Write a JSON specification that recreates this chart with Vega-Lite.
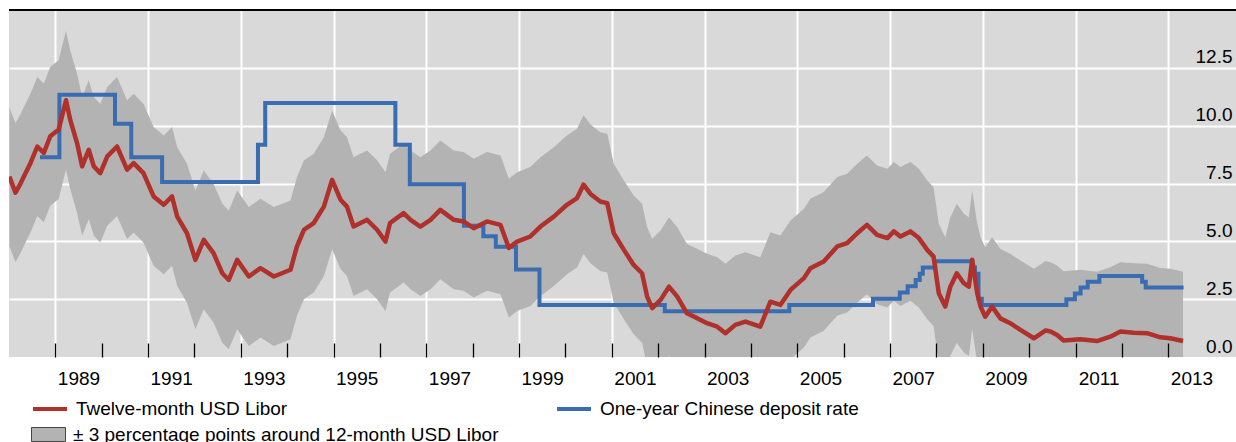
{
  "$schema": "https://vega.github.io/schema/vega-lite/v6.json",
  "width": 1227,
  "height": 347,
  "autosize": {"type": "none"},
  "padding": {"left": 9, "top": 10, "right": 0, "bottom": 85},
  "background": "white",
  "config": {
    "font": "Liberation Sans",
    "view": {"fill": "#d9d9d9", "stroke": null},
    "axis": {"labelColor": "#000000", "labelFontSize": 19, "title": null, "domain": false}
  },
  "resolve": {"axis": {"x": "independent"}},
  "datasets": {
    "libor": [
      {"d": "1988-01-04", "v": 7.8, "lo": 4.8, "hi": 10.8},
      {"d": "1988-02-21", "v": 7.1, "lo": 4.1, "hi": 10.1},
      {"d": "1988-04-01", "v": 7.5, "lo": 4.5, "hi": 10.5},
      {"d": "1988-04-27", "v": 7.8, "lo": 4.8, "hi": 10.8},
      {"d": "1988-06-18", "v": 8.38, "lo": 5.38, "hi": 11.38},
      {"d": "1988-08-11", "v": 9.1, "lo": 6.1, "hi": 12.1},
      {"d": "1988-10-01", "v": 8.82, "lo": 5.82, "hi": 11.82},
      {"d": "1988-11-21", "v": 9.54, "lo": 6.54, "hi": 12.54},
      {"d": "1989-01-26", "v": 9.83, "lo": 6.83, "hi": 12.83},
      {"d": "1989-03-25", "v": 11.1, "lo": 8.1, "hi": 14.1},
      {"d": "1989-04-27", "v": 10.26, "lo": 7.26, "hi": 13.26},
      {"d": "1989-06-20", "v": 9.25, "lo": 6.25, "hi": 12.25},
      {"d": "1989-07-30", "v": 8.24, "lo": 5.24, "hi": 11.24},
      {"d": "1989-09-20", "v": 8.96, "lo": 5.96, "hi": 11.96},
      {"d": "1989-10-30", "v": 8.24, "lo": 5.24, "hi": 11.24},
      {"d": "1989-12-20", "v": 7.95, "lo": 4.95, "hi": 10.95},
      {"d": "1990-02-13", "v": 8.67, "lo": 5.67, "hi": 11.67},
      {"d": "1990-05-01", "v": 9.1, "lo": 6.1, "hi": 12.1},
      {"d": "1990-07-19", "v": 8.1, "lo": 5.1, "hi": 11.1},
      {"d": "1990-09-09", "v": 8.38, "lo": 5.38, "hi": 11.38},
      {"d": "1990-11-25", "v": 7.95, "lo": 4.95, "hi": 10.95},
      {"d": "1991-02-13", "v": 6.94, "lo": 3.94, "hi": 9.94},
      {"d": "1991-05-04", "v": 6.58, "lo": 3.58, "hi": 9.58},
      {"d": "1991-07-08", "v": 6.94, "lo": 3.94, "hi": 9.94},
      {"d": "1991-08-18", "v": 6.07, "lo": 3.07, "hi": 9.07},
      {"d": "1991-11-03", "v": 5.35, "lo": 2.35, "hi": 8.35},
      {"d": "1992-01-08", "v": 4.2, "lo": 1.2, "hi": 7.2},
      {"d": "1992-03-14", "v": 5.06, "lo": 2.06, "hi": 8.06},
      {"d": "1992-05-30", "v": 4.49, "lo": 1.49, "hi": 7.49},
      {"d": "1992-08-07", "v": 3.62, "lo": 0.62, "hi": 6.62},
      {"d": "1992-09-27", "v": 3.33, "lo": 0.33, "hi": 6.33},
      {"d": "1992-12-02", "v": 4.2, "lo": 1.2, "hi": 7.2},
      {"d": "1993-03-04", "v": 3.48, "lo": 0.48, "hi": 6.48},
      {"d": "1993-06-03", "v": 3.84, "lo": 0.84, "hi": 6.84},
      {"d": "1993-09-17", "v": 3.48, "lo": 0.48, "hi": 6.48},
      {"d": "1994-01-26", "v": 3.77, "lo": 0.77, "hi": 6.77},
      {"d": "1994-03-18", "v": 4.78, "lo": 1.78, "hi": 7.78},
      {"d": "1994-05-12", "v": 5.5, "lo": 2.5, "hi": 8.5},
      {"d": "1994-07-28", "v": 5.79, "lo": 2.79, "hi": 8.79},
      {"d": "1994-10-16", "v": 6.5, "lo": 3.5, "hi": 9.5},
      {"d": "1994-12-20", "v": 7.66, "lo": 4.66, "hi": 10.66},
      {"d": "1995-02-24", "v": 6.8, "lo": 3.8, "hi": 9.8},
      {"d": "1995-04-16", "v": 6.5, "lo": 3.5, "hi": 9.5},
      {"d": "1995-06-07", "v": 5.64, "lo": 2.64, "hi": 8.64},
      {"d": "1995-09-21", "v": 5.93, "lo": 2.93, "hi": 8.93},
      {"d": "1995-12-09", "v": 5.5, "lo": 2.5, "hi": 8.5},
      {"d": "1996-02-13", "v": 4.99, "lo": 1.99, "hi": 7.99},
      {"d": "1996-03-20", "v": 5.79, "lo": 2.79, "hi": 8.79},
      {"d": "1996-07-05", "v": 6.22, "lo": 3.22, "hi": 9.22},
      {"d": "1996-08-29", "v": 5.93, "lo": 2.93, "hi": 8.93},
      {"d": "1996-11-14", "v": 5.64, "lo": 2.64, "hi": 8.64},
      {"d": "1997-02-02", "v": 5.93, "lo": 2.93, "hi": 8.93},
      {"d": "1997-04-20", "v": 6.36, "lo": 3.36, "hi": 9.36},
      {"d": "1997-08-04", "v": 5.93, "lo": 2.93, "hi": 8.93},
      {"d": "1997-10-20", "v": 5.86, "lo": 2.86, "hi": 8.86},
      {"d": "1998-01-08", "v": 5.57, "lo": 2.57, "hi": 8.57},
      {"d": "1998-04-23", "v": 5.86, "lo": 2.86, "hi": 8.86},
      {"d": "1998-08-07", "v": 5.71, "lo": 2.71, "hi": 8.71},
      {"d": "1998-10-12", "v": 4.71, "lo": 1.71, "hi": 7.71},
      {"d": "1998-12-16", "v": 4.99, "lo": 1.99, "hi": 7.99},
      {"d": "1999-03-30", "v": 5.21, "lo": 2.21, "hi": 8.21},
      {"d": "1999-06-18", "v": 5.64, "lo": 2.64, "hi": 8.64},
      {"d": "1999-10-01", "v": 6.07, "lo": 3.07, "hi": 9.07},
      {"d": "2000-01-12", "v": 6.58, "lo": 3.58, "hi": 9.58},
      {"d": "2000-04-01", "v": 6.87, "lo": 3.87, "hi": 9.87},
      {"d": "2000-05-22", "v": 7.45, "lo": 4.45, "hi": 10.45},
      {"d": "2000-07-16", "v": 7.05, "lo": 4.05, "hi": 10.05},
      {"d": "2000-10-01", "v": 6.72, "lo": 3.72, "hi": 9.72},
      {"d": "2000-11-25", "v": 6.65, "lo": 3.65, "hi": 9.65},
      {"d": "2001-01-15", "v": 5.35, "lo": 2.35, "hi": 8.35},
      {"d": "2001-04-05", "v": 4.63, "lo": 1.63, "hi": 7.63},
      {"d": "2001-06-21", "v": 3.98, "lo": 0.98, "hi": 6.98},
      {"d": "2001-08-26", "v": 3.62, "lo": 0.62, "hi": 6.62},
      {"d": "2001-10-05", "v": 2.61, "lo": -0.39, "hi": 5.61},
      {"d": "2001-11-14", "v": 2.11, "lo": -0.89, "hi": 5.11},
      {"d": "2002-01-19", "v": 2.47, "lo": -0.53, "hi": 5.47},
      {"d": "2002-03-26", "v": 3.04, "lo": 0.04, "hi": 6.04},
      {"d": "2002-05-30", "v": 2.61, "lo": -0.39, "hi": 5.61},
      {"d": "2002-08-15", "v": 1.89, "lo": -1.11, "hi": 4.89},
      {"d": "2002-11-03", "v": 1.68, "lo": -1.32, "hi": 4.68},
      {"d": "2003-01-20", "v": 1.46, "lo": -1.54, "hi": 4.46},
      {"d": "2003-04-10", "v": 1.31, "lo": -1.69, "hi": 4.31},
      {"d": "2003-06-14", "v": 1.03, "lo": -1.97, "hi": 4.03},
      {"d": "2003-08-30", "v": 1.39, "lo": -1.61, "hi": 4.39},
      {"d": "2003-11-18", "v": 1.53, "lo": -1.47, "hi": 4.53},
      {"d": "2004-03-14", "v": 1.31, "lo": -1.69, "hi": 4.31},
      {"d": "2004-06-02", "v": 2.39, "lo": -0.61, "hi": 5.39},
      {"d": "2004-08-19", "v": 2.25, "lo": -0.75, "hi": 5.25},
      {"d": "2004-11-07", "v": 2.9, "lo": -0.1, "hi": 5.9},
      {"d": "2005-02-21", "v": 3.41, "lo": 0.41, "hi": 6.41},
      {"d": "2005-04-13", "v": 3.84, "lo": 0.84, "hi": 6.84},
      {"d": "2005-07-27", "v": 4.13, "lo": 1.13, "hi": 7.13},
      {"d": "2005-11-10", "v": 4.78, "lo": 1.78, "hi": 7.78},
      {"d": "2006-01-27", "v": 4.92, "lo": 1.92, "hi": 7.92},
      {"d": "2006-04-17", "v": 5.35, "lo": 2.35, "hi": 8.35},
      {"d": "2006-07-02", "v": 5.71, "lo": 2.71, "hi": 8.71},
      {"d": "2006-09-20", "v": 5.28, "lo": 2.28, "hi": 8.28},
      {"d": "2006-12-10", "v": 5.14, "lo": 2.14, "hi": 8.14},
      {"d": "2007-01-30", "v": 5.43, "lo": 2.43, "hi": 8.43},
      {"d": "2007-03-23", "v": 5.21, "lo": 2.21, "hi": 8.21},
      {"d": "2007-06-10", "v": 5.43, "lo": 2.43, "hi": 8.43},
      {"d": "2007-08-15", "v": 5.14, "lo": 2.14, "hi": 8.14},
      {"d": "2007-10-20", "v": 4.63, "lo": 1.63, "hi": 7.63},
      {"d": "2007-12-09", "v": 4.34, "lo": 1.34, "hi": 7.34},
      {"d": "2008-01-19", "v": 2.76, "lo": -0.24, "hi": 5.76},
      {"d": "2008-03-10", "v": 2.18, "lo": -0.82, "hi": 5.18},
      {"d": "2008-04-19", "v": 3.04, "lo": 0.04, "hi": 6.04},
      {"d": "2008-06-09", "v": 3.62, "lo": 0.62, "hi": 6.62},
      {"d": "2008-08-03", "v": 3.19, "lo": 0.19, "hi": 6.19},
      {"d": "2008-09-12", "v": 3.04, "lo": 0.04, "hi": 6.04},
      {"d": "2008-10-08", "v": 4.2, "lo": 1.2, "hi": 7.2},
      {"d": "2008-11-17", "v": 2.76, "lo": -0.24, "hi": 5.76},
      {"d": "2008-12-13", "v": 2.18, "lo": -0.82, "hi": 5.18},
      {"d": "2009-01-19", "v": 1.74, "lo": -1.26, "hi": 4.74},
      {"d": "2009-03-14", "v": 2.18, "lo": -0.82, "hi": 5.18},
      {"d": "2009-05-18", "v": 1.67, "lo": -1.33, "hi": 4.67},
      {"d": "2009-08-04", "v": 1.46, "lo": -1.54, "hi": 4.46},
      {"d": "2009-10-23", "v": 1.17, "lo": -1.83, "hi": 4.17},
      {"d": "2010-02-06", "v": 0.81, "lo": -2.19, "hi": 3.81},
      {"d": "2010-05-10", "v": 1.15, "lo": -1.85, "hi": 4.15},
      {"d": "2010-06-18", "v": 1.1, "lo": -1.9, "hi": 4.1},
      {"d": "2010-08-08", "v": 0.95, "lo": -2.05, "hi": 3.95},
      {"d": "2010-09-28", "v": 0.71, "lo": -2.29, "hi": 3.71},
      {"d": "2011-02-06", "v": 0.77, "lo": -2.23, "hi": 3.77},
      {"d": "2011-06-18", "v": 0.69, "lo": -2.31, "hi": 3.69},
      {"d": "2011-10-01", "v": 0.88, "lo": -2.12, "hi": 3.88},
      {"d": "2011-12-20", "v": 1.1, "lo": -1.9, "hi": 4.1},
      {"d": "2012-04-01", "v": 1.05, "lo": -1.95, "hi": 4.05},
      {"d": "2012-07-16", "v": 1.03, "lo": -1.97, "hi": 4.03},
      {"d": "2012-10-30", "v": 0.85, "lo": -2.15, "hi": 3.85},
      {"d": "2013-01-15", "v": 0.81, "lo": -2.19, "hi": 3.81},
      {"d": "2013-04-26", "v": 0.69, "lo": -2.31, "hi": 3.69}
    ],
    "cny": [
      {"d": "1988-09-01", "r": 8.64},
      {"d": "1989-02-01", "r": 11.34},
      {"d": "1990-04-15", "r": 10.08},
      {"d": "1990-08-21", "r": 8.64},
      {"d": "1991-04-21", "r": 7.56},
      {"d": "1993-05-15", "r": 9.18},
      {"d": "1993-07-11", "r": 10.98},
      {"d": "1996-05-01", "r": 9.18},
      {"d": "1996-08-23", "r": 7.47},
      {"d": "1997-10-23", "r": 5.67},
      {"d": "1998-03-25", "r": 5.22},
      {"d": "1998-07-01", "r": 4.77},
      {"d": "1998-12-07", "r": 3.78},
      {"d": "1999-06-10", "r": 2.25},
      {"d": "2002-02-21", "r": 1.98},
      {"d": "2004-10-29", "r": 2.25},
      {"d": "2006-08-19", "r": 2.52},
      {"d": "2007-03-18", "r": 2.79},
      {"d": "2007-05-19", "r": 3.06},
      {"d": "2007-07-21", "r": 3.33},
      {"d": "2007-08-22", "r": 3.6},
      {"d": "2007-09-15", "r": 3.87},
      {"d": "2007-12-21", "r": 4.14},
      {"d": "2008-10-09", "r": 3.87},
      {"d": "2008-10-30", "r": 3.6},
      {"d": "2008-11-27", "r": 2.52},
      {"d": "2008-12-23", "r": 2.25},
      {"d": "2010-10-20", "r": 2.5},
      {"d": "2010-12-26", "r": 2.75},
      {"d": "2011-02-09", "r": 3.0},
      {"d": "2011-04-06", "r": 3.25},
      {"d": "2011-07-07", "r": 3.5},
      {"d": "2012-06-08", "r": 3.25},
      {"d": "2012-07-06", "r": 3.0},
      {"d": "2013-04-30", "r": 3.0}
    ],
    "frame": [{"top": 15}]
  },
  "layer": [
    {
      "data": {"name": "libor"},
      "mark": {"type": "area", "clip": true, "strokeWidth": 0},
      "encoding": {
        "x": {
          "field": "d", "type": "temporal",
          "scale": {"type": "utc", "domain": [{"year": 1988, "month": 1, "date": 1, "utc": true}, {"year": 2014, "month": 6, "date": 17, "utc": true}]},
          "axis": {
            "orient": "bottom",
            "values": [
              {"year": 1989, "month": 1, "date": 1, "utc": true},
              {"year": 1991, "month": 1, "date": 1, "utc": true},
              {"year": 1993, "month": 1, "date": 1, "utc": true},
              {"year": 1995, "month": 1, "date": 1, "utc": true},
              {"year": 1997, "month": 1, "date": 1, "utc": true},
              {"year": 1999, "month": 1, "date": 1, "utc": true},
              {"year": 2001, "month": 1, "date": 1, "utc": true},
              {"year": 2003, "month": 1, "date": 1, "utc": true},
              {"year": 2005, "month": 1, "date": 1, "utc": true},
              {"year": 2007, "month": 1, "date": 1, "utc": true},
              {"year": 2009, "month": 1, "date": 1, "utc": true},
              {"year": 2011, "month": 1, "date": 1, "utc": true},
              {"year": 2013, "month": 1, "date": 1, "utc": true}
            ],
            "format": "%Y",
            "grid": true, "gridColor": "#ffffff", "gridWidth": 2, "gridOpacity": 1,
            "ticks": false, "labelOffset": 23, "labelPadding": 12,
            "labelFlush": false, "labelOverlap": false, "labelBound": false,
            "zindex": 0
          }
        },
        "y": {
          "field": "lo", "type": "quantitative",
          "scale": {"domain": [0, 15], "nice": false, "zero": false},
          "axis": {
            "orient": "right",
            "values": [0, 2.5, 5, 7.5, 10, 12.5],
            "format": ".1f",
            "grid": true, "gridColor": "#ffffff", "gridWidth": 2,
            "gridOpacity": {"condition": {"test": "datum.value === 0", "value": 0}, "value": 1},
            "ticks": false, "labelAlign": "right", "labelBaseline": "alphabetic",
            "labelPadding": -4, "labelOffset": -5, "labelFlush": false, "labelOverlap": false, "labelBound": false,
            "zindex": 0
          }
        },
        "y2": {"field": "hi"},
        "fill": {
          "datum": "± 3 percentage points around 12-month USD Libor",
          "type": "nominal",
          "scale": {"range": ["#b3b3b3"]},
          "legend": {
            "orient": "none", "legendX": 22, "legendY": 407, "padding": 0,
            "title": null,
            "symbolType": "M-1,-0.41H1V0.41H-1Z", "symbolSize": 1156,
            "symbolStrokeColor": "#444444", "symbolStrokeWidth": 1, "symbolOpacity": 1,
            "labelFontSize": 19, "labelColor": "#000000", "labelOffset": 7, "labelLimit": 600
          }
        }
      }
    },
    {
      "data": {"name": "cny"},
      "mark": {"type": "line", "interpolate": "step-after", "strokeWidth": 4, "clip": true},
      "encoding": {
        "x": {"field": "d", "type": "temporal", "axis": null},
        "y": {"field": "r", "type": "quantitative"},
        "stroke": {"datum": "One-year Chinese deposit rate", "type": "nominal"}
      }
    },
    {
      "data": {"name": "libor"},
      "mark": {"type": "line", "strokeWidth": 4.5, "clip": true, "strokeJoin": "round"},
      "encoding": {
        "x": {
          "field": "d", "type": "temporal",
          "axis": {
            "orient": "bottom",
            "values": [
              {"year": 1989, "month": 1, "date": 1, "utc": true},
              {"year": 1990, "month": 1, "date": 1, "utc": true},
              {"year": 1991, "month": 1, "date": 1, "utc": true},
              {"year": 1992, "month": 1, "date": 1, "utc": true},
              {"year": 1993, "month": 1, "date": 1, "utc": true},
              {"year": 1994, "month": 1, "date": 1, "utc": true},
              {"year": 1995, "month": 1, "date": 1, "utc": true},
              {"year": 1996, "month": 1, "date": 1, "utc": true},
              {"year": 1997, "month": 1, "date": 1, "utc": true},
              {"year": 1998, "month": 1, "date": 1, "utc": true},
              {"year": 1999, "month": 1, "date": 1, "utc": true},
              {"year": 2000, "month": 1, "date": 1, "utc": true},
              {"year": 2001, "month": 1, "date": 1, "utc": true},
              {"year": 2002, "month": 1, "date": 1, "utc": true},
              {"year": 2003, "month": 1, "date": 1, "utc": true},
              {"year": 2004, "month": 1, "date": 1, "utc": true},
              {"year": 2005, "month": 1, "date": 1, "utc": true},
              {"year": 2006, "month": 1, "date": 1, "utc": true},
              {"year": 2007, "month": 1, "date": 1, "utc": true},
              {"year": 2008, "month": 1, "date": 1, "utc": true},
              {"year": 2009, "month": 1, "date": 1, "utc": true},
              {"year": 2010, "month": 1, "date": 1, "utc": true},
              {"year": 2011, "month": 1, "date": 1, "utc": true},
              {"year": 2012, "month": 1, "date": 1, "utc": true},
              {"year": 2013, "month": 1, "date": 1, "utc": true}
            ],
            "offset": -14, "ticks": true, "tickSize": 14, "tickColor": "#000000", "tickWidth": 1.3,
            "labels": false, "grid": false, "domain": false, "zindex": 2
          }
        },
        "y": {"field": "v", "type": "quantitative"},
        "stroke": {
          "datum": "Twelve-month USD Libor",
          "type": "nominal",
          "scale": {"domain": ["Twelve-month USD Libor", "One-year Chinese deposit rate"], "range": ["#b0302c", "#3a6cb2"]},
          "legend": {
            "orient": "none", "legendX": 22, "legendY": 380, "padding": 0,
            "title": null, "direction": "horizontal", "columns": 2, "columnPadding": 261,
            "symbolType": "stroke", "symbolSize": 1156, "symbolStrokeWidth": 4,
            "labelFontSize": 19, "labelColor": "#000000", "labelOffset": 7, "labelLimit": 600
          }
        }
      }
    },
    {
      "data": {"name": "frame"},
      "mark": {"type": "rule", "color": "#000000", "strokeWidth": 2, "clip": false},
      "encoding": {"y": {"field": "top", "type": "quantitative"}}
    }
  ]
}
